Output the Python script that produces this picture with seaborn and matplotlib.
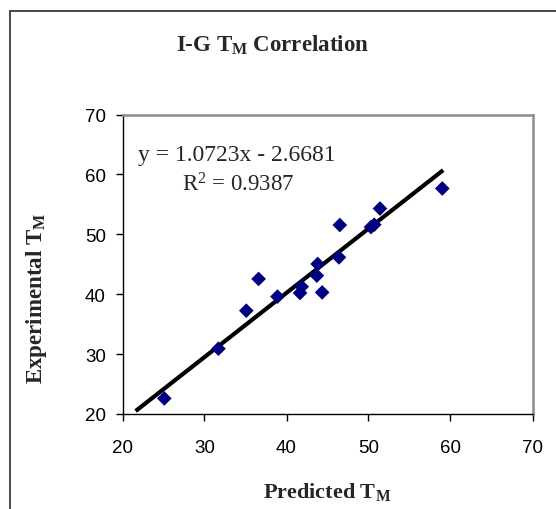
import numpy as np
import pandas as pd
import matplotlib
matplotlib.use("Agg")
import matplotlib.pyplot as plt
from matplotlib.lines import Line2D
import seaborn as sns

# ---- data ----
predicted = [25.1, 31.7, 35.1, 36.6, 38.9, 41.65, 41.85, 43.7, 43.8, 44.35,
             46.4, 46.5, 50.3, 50.7, 51.4, 59.0]
experimental = [22.6, 30.9, 37.25, 42.55, 39.6, 40.2, 41.25, 43.1, 45.05, 40.3,
                46.15, 51.55, 51.2, 51.6, 54.3, 57.65]
trend_slope = 1.0723
trend_intercept = -2.6681
trend_x = [21.6, 59.1]
x_ticks = [20, 30, 40, 50, 60, 70]
y_ticks = [20, 30, 40, 50, 60, 70]
title = "I-G T$_\\mathbf{M}$ Correlation"
x_label = "Predicted T$_\\mathbf{M}$"
y_label = "Experimental T$_\\mathbf{M}$"
eq_text = "y = 1.0723x - 2.6681"
r2_text = "R$^\\mathrm{2}$ = 0.9387"

df = pd.DataFrame({"predicted": predicted, "experimental": experimental})
trend = pd.DataFrame({"x": trend_x,
                      "y": [trend_slope * v + trend_intercept for v in trend_x]})

sns.set_theme(style="white")
plt.rcParams["font.family"] = ["Liberation Sans", "DejaVu Sans"]
plt.rcParams["mathtext.fontset"] = "custom"
plt.rcParams["mathtext.rm"] = "Liberation Serif"
plt.rcParams["mathtext.it"] = "Liberation Serif:italic"
plt.rcParams["mathtext.bf"] = "Liberation Serif:bold"

W, H = 556, 510
fig = plt.figure(figsize=(W / 100, H / 100), dpi=100)
fig.patch.set_facecolor("white")

L, R, T, B = 122.5, 532.5, 115.5, 415.0
ax = fig.add_axes([L / W, 1 - B / H, (R - L) / W, (B - T) / H])
ax.set_facecolor("white")

sns.lineplot(data=trend, x="x", y="y", ax=ax, color="black", linewidth=3.0,
             solid_capstyle="butt", zorder=2)
sns.scatterplot(data=df, x="predicted", y="experimental", ax=ax, marker="D",
                s=56, color="#000080", edgecolor="none", linewidth=0, zorder=3)

ax.set_xlim(20, 70)
ax.set_ylim(20, 70)
ax.set_xticks(x_ticks)
ax.set_yticks(y_ticks)
ax.set_xlabel("")
ax.set_ylabel("")
ax.tick_params(axis="both", direction="out", length=5, width=1, colors="black",
               labelsize=13.5, bottom=True, left=True)
ax.tick_params(axis="x", pad=13)
ax.tick_params(axis="y", pad=7)

for side in ["left", "bottom"]:
    ax.spines[side].set_color("black")
    ax.spines[side].set_linewidth(1.0)
for side in ["top", "right"]:
    ax.spines[side].set_color("#8c8c8c")
    ax.spines[side].set_linewidth(1.8)

serif = ["Liberation Serif", "DejaVu Serif"]
fig.text(272 / W, 1 - 45 / H, title, ha="center", va="center", fontsize=16.5,
         fontweight="bold", family=serif)
fig.text(327.5 / W, 1 - 492 / H, x_label, ha="center", va="center", fontsize=16,
         fontweight="bold", family=serif)
fig.text(37 / W, 1 - 298.5 / H, y_label, ha="center", va="center", fontsize=16.5,
         fontweight="bold", family=serif, rotation=90)

fig.text(237 / W, 1 - 155 / H, eq_text, ha="center", va="center", fontsize=17,
         family=serif)
fig.text(238 / W, 1 - 185 / H, r2_text, ha="center", va="center", fontsize=16.5,
         family=serif)

# outer chart frame
fig.add_artist(Line2D([10 / W, 10 / W], [-0.05, 1 - 12 / H], transform=fig.transFigure,
                      color="#3a3a3a", linewidth=1.3))
fig.add_artist(Line2D([10 / W, 1.05], [1 - 12 / H, 1 - 12 / H], transform=fig.transFigure,
                      color="#3a3a3a", linewidth=1.3))

fig.savefig("out.png", dpi=100, facecolor="white")
